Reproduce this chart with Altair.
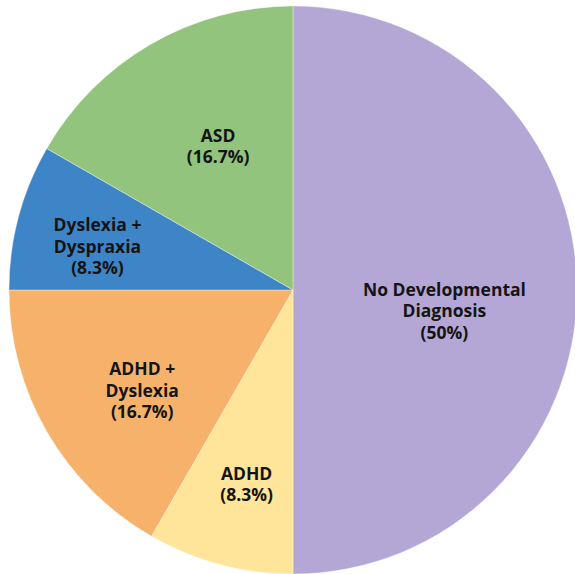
import altair as alt
import pandas as pd

# Slices, clockwise from 12 o'clock
categories = [
    "No Developmental Diagnosis",
    "ADHD",
    "ADHD + Dyslexia",
    "Dyslexia + Dyspraxia",
    "ASD",
]
label_lines = [
    "No Developmental\nDiagnosis",
    "ADHD",
    "ADHD +\nDyslexia",
    "Dyslexia +\nDyspraxia",
    "ASD",
]
values = [50, 8.3, 16.7, 8.3, 16.7]
colors = ["#b4a7d6", "#ffe599", "#f6b26b", "#3d85c6", "#93c47d"]

# Label placement: distance from centre (px) and angular nudge (deg) per slice
label_radius = {
    "No Developmental Diagnosis": 153,
    "ADHD": 201,
    "ADHD + Dyslexia": 182,
    "Dyslexia + Dyspraxia": 200,
    "ASD": 161,
}
label_nudge = {
    "No Developmental Diagnosis": 8.3,
    "ADHD": -1.6,
    "ADHD + Dyslexia": -4.0,
    "Dyslexia + Dyspraxia": -2.8,
    "ASD": 2.3,
}

W, H = 564, 568
PIE_R = 284
LINE_H = 21.5


def pct(v):
    return f"{v:g}%"


df = pd.DataFrame({
    "category": categories,
    "value": values,
    "idx": list(range(len(categories))),
    "label": [f"{l}\n({pct(v)})" for l, v in zip(label_lines, values)],
    "lr": [label_radius[c] for c in categories],
    "nudge": [label_nudge[c] for c in categories],
})

color_scale = alt.Scale(domain=categories, range=colors)

pie = alt.Chart(df).mark_arc(
    radius=PIE_R, stroke="#ffffff", strokeWidth=0.6, strokeOpacity=0.6
).encode(
    theta=alt.Theta("value:Q", stack=True),
    order=alt.Order("idx:Q"),
    color=alt.Color("category:N", scale=color_scale, legend=None),
)

# Multi-line text anchors on its first line, so shift each block up by half
# its extra height to centre it on the label point.
labels = alt.Chart(df).transform_joinaggregate(
    total="sum(value)"
).transform_window(
    cum="sum(value)", sort=[alt.SortField("idx")]
).transform_calculate(
    ang="(datum.cum - datum.value / 2) / datum.total * 2 * PI + datum.nudge * PI / 180",
    nlines="length(split(datum.label, '\\n'))",
).transform_calculate(
    px=f"{W / 2} + datum.lr * sin(datum.ang)",
    py=f"{H / 2} - datum.lr * cos(datum.ang) - (datum.nlines - 1) / 2 * {LINE_H}",
).mark_text(
    font="Open Sans",
    fontWeight="bold",
    fontSize=17.5,
    lineHeight=LINE_H,
    lineBreak="\n",
    align="center",
    baseline="middle",
    color="#141414",
).encode(
    x=alt.X("px:Q", scale=None),
    y=alt.Y("py:Q", scale=None),
    text="label:N",
)

chart = alt.layer(pie, labels).properties(
    width=W,
    height=H,
    autosize=alt.AutoSizeParams(type="none"),
    padding={"left": 11, "top": 6, "right": 0, "bottom": 0},
).configure_view(stroke=None)

chart.save("out.html", embed_options={"renderer": "svg", "actions": False})
